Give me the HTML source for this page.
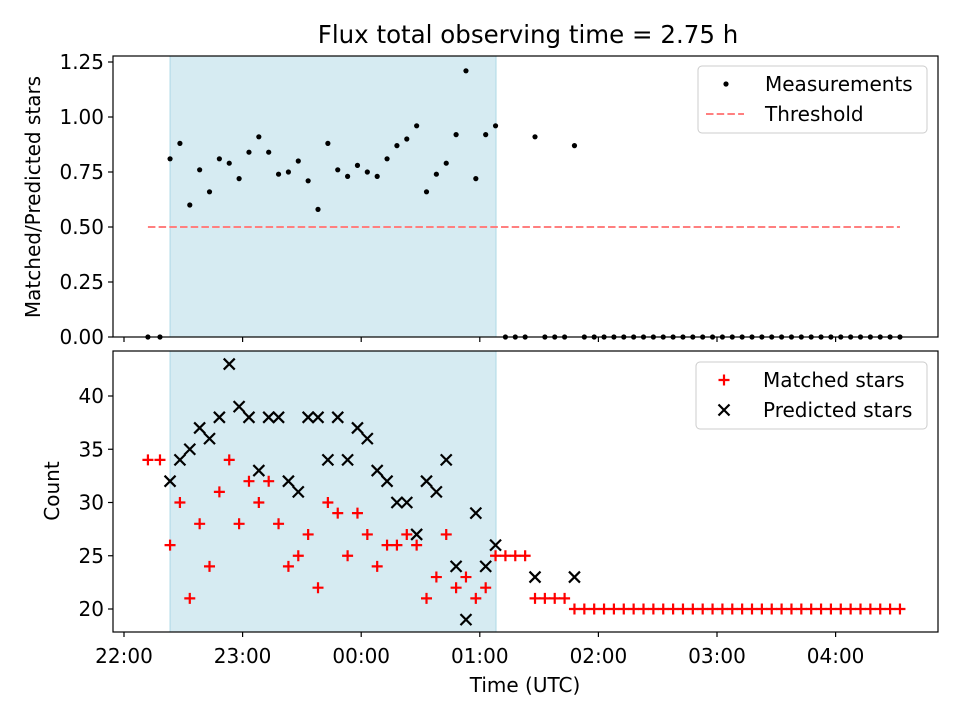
<!DOCTYPE html>
<html><head><meta charset="utf-8"><style>
body{margin:0;background:#fff}
svg text{font-family:"DejaVu Sans","Liberation Sans",sans-serif;fill:#000}
</style></head><body>
<svg id="c" width="960" height="720" xmlns="http://www.w3.org/2000/svg"></svg>
<script>
const tickLabels=["22:00","23:00","00:00","01:00","02:00","03:00","04:00"];
const firstTimes=[12.1,18.2];
const startMin=23.3, stepMin=4.99;
const matched=[34,34,26,30,21,28,24,31,34,28,32,30,32,28,24,25,27,22,30,29,25,29,27,24,26,26,27,26,21,23,27,22,23,21,22,25,25,25,25,21,21,21,21,20,20,20,20,20,20,20,20,20,20,20,20,20,20,20,20,20,20,20,20,20,20,20,20,20,20,20,20,20,20,20,20,20,20];
const predicted=[null,null,32,34,35,37,36,38,43,39,38,33,38,38,32,31,38,38,34,38,34,37,36,33,32,30,30,27,32,31,34,24,19,29,24,26,null,null,null,23,null,null,null,23];
const ratio=[0,0,0.81,0.88,0.60,0.76,0.66,0.81,0.79,0.72,0.84,0.91,0.84,0.74,0.75,0.80,0.71,0.58,0.88,0.76,0.73,0.78,0.75,0.73,0.81,0.87,0.90,0.96,0.66,0.74,0.79,0.92,1.21,0.72,0.92,0.96,0,0,0,0.91,0,0,0,0.87,0,0,0,0,0,0,0,0,0,0,0,0,0,0,0,0,0,0,0,0,0,0,0,0,0,0,0,0,0,0,0,0,0];
const topTicks=[0,0.25,0.5,0.75,1.0,1.25];
const botTicks=[20,25,30,35,40];
const threshold=0.5;
const shadeStart=23.3, shadeEnd=188.2;

const S=document.getElementById('c');const NS="http://www.w3.org/2000/svg";
function el(t,a,p){const e=document.createElementNS(NS,t);for(const k in a)e.setAttribute(k,a[k]);(p||S).appendChild(e);return e;}
const L=113,R=938,FS=20;
const xs=m=>124+m/60*118.6;
const yT=v=>337-v*220;
const yB=v=>609-(v-20)*10.65;
const tMin=i=>i<2?firstTimes[i]:startMin+stepMin*(i-2);

function panel(top,bot,name){
  const g=el('g',{});
  const s=el('rect',{x:xs(shadeStart),y:top,width:xs(shadeEnd)-xs(shadeStart),height:bot-top,fill:'#add8e6','fill-opacity':0.5,stroke:'#add8e6'},g);
  
  return g;
}
function frame(top,bot,g){el('rect',{x:L,y:top,width:R-L,height:bot-top,fill:'none',stroke:'#000','stroke-width':1.2},g);}
function xticks(bot,g,labels){
  tickLabels.forEach((t,i)=>{const x=xs(i*60);el('line',{x1:x,x2:x,y1:bot,y2:bot+5,stroke:'#000','stroke-width':1.2},g);
    if(labels){const tx=el('text',{x:x,y:bot+31,'text-anchor':'middle','font-size':FS},g);tx.textContent=t;
      }});
}
// top panel
const gT=panel(56,337,'ratio-panel');
el('line',{x1:xs(tMin(0)),x2:xs(tMin(ratio.length-1)),y1:yT(threshold),y2:yT(threshold),stroke:'#ff7f7f','stroke-width':2,'stroke-dasharray':'7.5,3.2'},gT);
ratio.forEach((v,i)=>{const c=el('circle',{cx:xs(tMin(i)),cy:yT(v),r:2.6,fill:'#000'},gT);
  });
frame(56,337,gT);xticks(337,gT,false);
topTicks.forEach(v=>{const y=yT(v);el('line',{x1:L-5,x2:L,y1:y,y2:y,stroke:'#000','stroke-width':1.2},gT);
  const t=el('text',{x:L-9,y:y+7,'text-anchor':'end','font-size':FS},gT);t.textContent=v.toFixed(2);
  });
let t=el('text',{x:40,y:197,'text-anchor':'middle','font-size':FS,transform:'rotate(-90 40 197)'});t.textContent='Matched/Predicted stars';

// bottom panel
const gB=panel(351,632,'count-panel');
matched.forEach((v,i)=>{const x=xs(tMin(i)),y=yB(v);const p=el('path',{d:`M${x-5.5},${y}H${x+5.5}M${x},${y-5.5}V${y+5.5}`,stroke:'#f00','stroke-width':2.2},gB);
  });
predicted.forEach((v,i)=>{if(v==null)return;const x=xs(tMin(i)),y=yB(v);const p=el('path',{d:`M${x-5.5},${y-5.5}L${x+5.5},${y+5.5}M${x-5.5},${y+5.5}L${x+5.5},${y-5.5}`,stroke:'#000','stroke-width':2.2},gB);
  });
frame(351,632,gB);xticks(632,gB,true);
botTicks.forEach(v=>{const y=yB(v);el('line',{x1:L-5,x2:L,y1:y,y2:y,stroke:'#000','stroke-width':1.2},gB);
  const t=el('text',{x:L-9,y:y+7,'text-anchor':'end','font-size':FS},gB);t.textContent=v;
  });
t=el('text',{x:59,y:491,'text-anchor':'middle','font-size':FS,transform:'rotate(-90 59 491)'});t.textContent='Count';

t=el('text',{x:525,y:692,'text-anchor':'middle','font-size':FS});t.textContent='Time (UTC)';

t=el('text',{x:528,y:43,'text-anchor':'middle','font-size':24.5});t.textContent='Flux total observing time = 2.75 h';

// legends
function legend(x,y,w,items,name){const g=el('g',{});
  el('rect',{x:x,y:y,width:w,height:67,rx:4,fill:'#fff','fill-opacity':0.8,stroke:'#ccc'},g);
  items.forEach((it,k)=>{const cy=y+18+k*30;it[0](x+28,cy,g);const tt=el('text',{x:x+67,y:cy+7,'font-size':FS},g);tt.textContent=it[1];
    });}
legend(698,66,229,[[(x,y,g)=>el('circle',{cx:x,cy:y,r:2.6,fill:'#000'},g),'Measurements'],
  [(x,y,g)=>el('line',{x1:x-20,x2:x+18,y1:y,y2:y,stroke:'#ff7f7f','stroke-width':2,'stroke-dasharray':'7.5,3.2'},g),'Threshold']],'top-legend');
legend(696,362,231,[[(x,y,g)=>el('path',{d:`M${x-5.5},${y}H${x+5.5}M${x},${y-5.5}V${y+5.5}`,stroke:'#f00','stroke-width':2.2},g),'Matched stars'],
  [(x,y,g)=>el('path',{d:`M${x-5.5},${y-5.5}L${x+5.5},${y+5.5}M${x-5.5},${y+5.5}L${x+5.5},${y-5.5}`,stroke:'#000','stroke-width':2.2},g),'Predicted stars']],'bottom-legend');
</script>
</body></html>
